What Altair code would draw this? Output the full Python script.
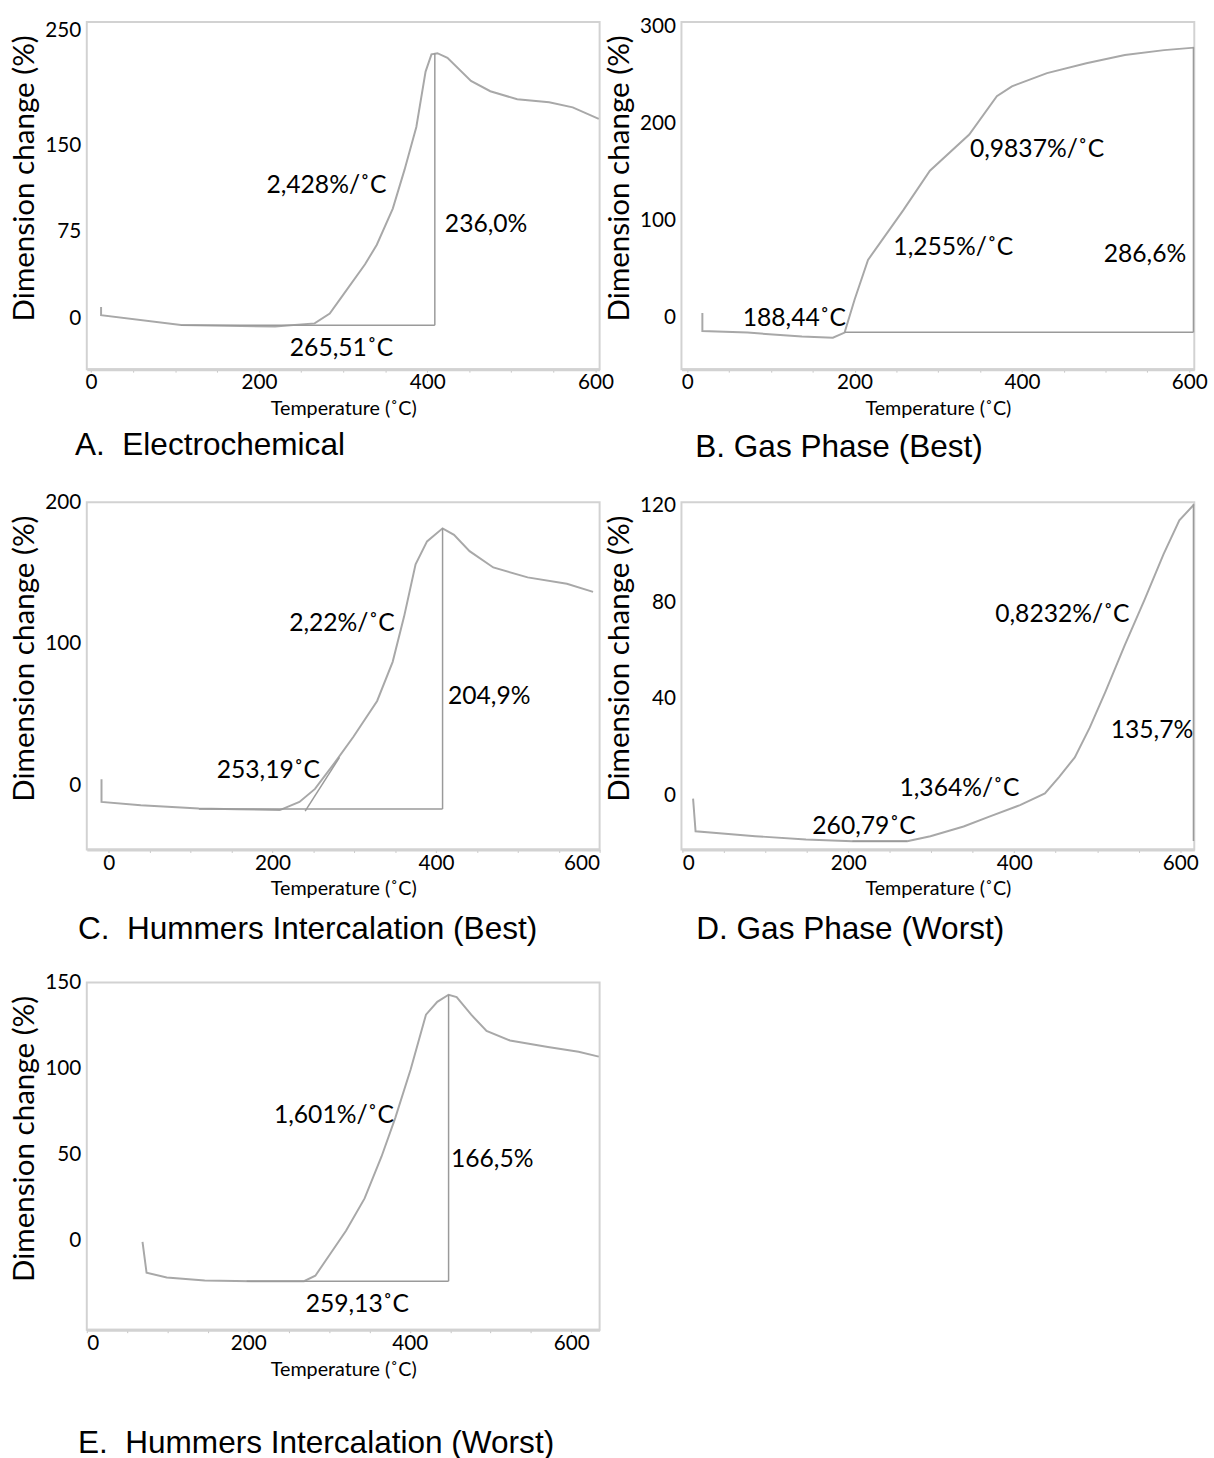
import altair as alt
import pandas as pd

# ---------------- data ----------------
# A. Electrochemical
A_T = [12, 12, 107, 219, 266, 284, 298, 326, 340, 359, 373, 387, 398, 405, 412, 424, 452, 475, 507, 545, 573, 604]
A_D = [10, 2.8, -5.7, -7.1, -4.3, 4.3, 18.5, 46.9, 63.9, 95.2, 129, 166, 214, 229, 230, 226, 206, 197, 190, 187.5, 183, 173]
# B. Gas Phase (Best)
B_T = [18, 18, 72, 137, 174, 188, 200, 216, 230, 258, 290, 337, 370, 388, 430, 477, 523, 570, 606]
B_D = [5, -13.6, -15.3, -19.4, -20.5, -15.3, 18.8, 59.7, 76.7, 110.8, 151.7, 189, 228.4, 238.7, 252.3, 262.5, 271, 276, 278.6]
# C. Hummers Intercalation (Best)
C_T = [-9, -9, 39, 110, 157, 209, 233, 252, 276, 299, 328, 347, 361, 375, 389, 408, 422, 441, 470, 512, 560, 592]
C_D = [4.6, -11.5, -13.8, -16.1, -16.6, -17.2, -11.5, -2.3, 16.1, 34.5, 59.8, 87.4, 119.5, 156.3, 172.4, 181.6, 177, 165.5, 154, 147, 142.5, 136.8]
# D. Gas Phase (Worst)
D_T = [13, 16, 41, 88, 149, 205, 271, 299, 339, 370, 407, 437, 454, 473, 491, 510, 533, 557, 580, 599, 617]
D_D = [-1.4, -15, -15.7, -17, -18.4, -19.1, -19.1, -17, -13, -8.9, -4.1, 0.7, 7.5, 15.7, 28, 43, 62, 81, 100, 114, 120.7]
# E. Hummers Intercalation (Worst)
E_T = [69, 74, 99, 146, 203, 269, 283, 302, 321, 344, 365, 382, 401, 420, 434, 448, 458, 476, 495, 524, 571, 609, 634]
E_D = [-0.9, -18.8, -21.6, -23.4, -23.8, -23.8, -20.6, -7.5, 5.6, 24.4, 48.8, 71.3, 99.4, 131.3, 138.8, 142.9, 141.6, 131.3, 121.9, 116.3, 112.5, 109.7, 106.9]

# annotations: text, x, y
A_LBL = ["2,428%/˚C", "236,0%", "265,51˚C"]
A_LX = [280, 470, 298]
A_LY = [116, 82, -26]
B_LBL = ["188,44˚C", "0,9837%/˚C", "1,255%/˚C", "286,6%"]
B_LX = [128, 418, 318, 547]
B_LY = [0, 174, 73, 66]
C_LBL = ["2,22%/˚C", "204,9%", "253,19˚C"]
C_LX = [285, 465, 195]
C_LY = [115, 63, 11]
D_LBL = ["0,8232%/˚C", "135,7%", "1,364%/˚C", "260,79˚C"]
D_LX = [458, 566, 334, 219]
D_LY = [75, 27, 3, -13]
E_LBL = ["1,601%/˚C", "166,5%", "259,13˚C"]
E_LX = [306, 502, 335]
E_LY = [73, 47, -37]

# measurement segments: (x0, y0, x1, y1)
A_SEG = [[409, -6, 409, 230], [107, -6, 409, -6]]
B_SEG = [[605, -15, 605, 279], [188, -15, 605, -15]]
C_SEG = [[408, -16.5, 408, 181.6], [110, -16.5, 408, -16.5], [240, -18, 282, 20]]
D_SEG = [[616, -19, 616, 120.7], [205, -19.1, 271, -19.1]]
E_SEG = [[448, -23.8, 448, 142.9], [198, -23.8, 448, -23.8]]

NB = "\u00a0"
CAPTIONS = ["A." + NB + " Electrochemical", "B. Gas Phase (Best)", "C." + NB + " Hummers Intercalation (Best)",
            "D. Gas Phase (Worst)", "E." + NB + " Hummers Intercalation (Worst)"]

LINE = "#a8a8a8"
FRAME = "#d2d2d2"
W, H = 520, 352


def panel(T, D, LBL, LX, LY, SEG, xdom, ydom, yticks, cap, cap_off, cap_dx):
    X = alt.X("t:Q", scale=alt.Scale(domain=xdom, nice=False, zero=False),
              axis=alt.Axis(values=list(range(0, 601, 50)),
                            labelExpr="datum.value % 200 == 0 ? datum.label : ''",
                            title="Temperature (˚C)"))
    Y = alt.Y("d:Q", scale=alt.Scale(domain=ydom, nice=False, zero=False),
              axis=alt.Axis(values=yticks, title="Dimension change (%)"))
    curve = alt.Chart(pd.DataFrame({"t": T, "d": D})).mark_line(
        color=LINE, strokeWidth=2, clip=True).encode(x=X, y=Y)
    seg = pd.DataFrame(SEG, columns=["t", "d", "t2", "d2"])
    rules = alt.Chart(seg).mark_rule(color="#9a9a9a", strokeWidth=1.5).encode(
        x="t:Q", y="d:Q", x2="t2:Q", y2="d2:Q")
    txt = alt.Chart(pd.DataFrame({"t": LX, "d": LY, "s": LBL})).mark_text(
        font="Lato", fontSize=25, color="black").encode(x="t:Q", y="d:Q", text="s:N")
    return alt.layer(curve, rules, txt).properties(
        width=W, height=H,
        title=alt.TitleParams(cap, orient="bottom", anchor="start", frame="group",
                              font="Liberation Sans", fontSize=32, fontWeight="normal",
                              color="black", offset=cap_off, dx=cap_dx))


pA = panel(A_T, A_D, A_LBL, A_LX, A_LY, A_SEG, [-5, 605], [-44, 257], [0, 75, 150, 250], CAPTIONS[0], 12, -12)
pB = panel(B_T, B_D, B_LBL, B_LX, B_LY, B_SEG, [-7, 606], [-53, 305], [0, 100, 200, 300], CAPTIONS[1], 14, 14)
pC = panel(C_T, C_D, C_LBL, C_LX, C_LY, C_SEG, [-27, 600], [-45, 200], [0, 100, 200], CAPTIONS[2], 16, -9)
pD = panel(D_T, D_D, D_LBL, D_LX, D_LY, D_SEG, [-1, 617], [-22.5, 121.5], [0, 40, 80, 120], CAPTIONS[3], 16, 15)
pE = panel(E_T, E_D, E_LBL, E_LX, E_LY, E_SEG, [0, 635], [-52, 150], [0, 50, 100, 150], CAPTIONS[4], 50, -9)

chart = alt.concat(pA, pB, pC, pD, pE, columns=2,
                   spacing=alt.RowColnumber(row=135, column=83), bounds="flush").properties(
    padding={"left": 9, "top": 4, "right": 5, "bottom": 5}
).configure_view(
    stroke=FRAME, strokeWidth=2
).configure_axis(
    grid=False, labelFont="Lato", labelFontSize=21, labelColor="black",
    titleFont="Lato", titleFontWeight="normal", titleColor="black",
    domainColor=FRAME, tickColor="#c4c4c4"
).configure_axisX(
    titleFontSize=20, domainWidth=3, tickSize=3, labelPadding=0, titlePadding=6
).configure_axisY(
    titleFontSize=30, domain=False, ticks=False, labelPadding=6, titlePadding=5,
    titleY=H / 2 - 18
)

chart.save("out.html", embed_options={"renderer": "svg", "actions": False})
